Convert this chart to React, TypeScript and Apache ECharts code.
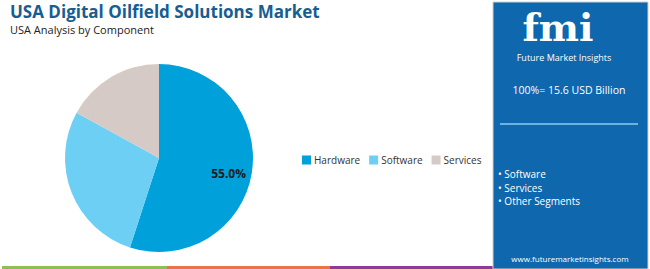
import React, { useEffect, useRef } from "react";
import * as echarts from "echarts";

const categories = ["Hardware", "Software", "Services"];
const shares = [55, 28, 17];
const colors = ["#00a0db", "#6dcff3", "#d6cac6"];
const labelled = ["Hardware"];
const title = "USA Digital Oilfield Solutions Market";
const subtitle = "USA Analysis by Component";
const marketSize = "100%= 15.6 USD Billion";
const otherSegments = ["Software", "Services", "Other Segments"];
const website = "www.futuremarketinsights.com";

const FONT = "'Open Sans', 'Noto Sans', sans-serif";

export default function App() {
  const ref = useRef<HTMLDivElement>(null);
  useEffect(() => {
    document.body.style.margin = "0";
    const chart = echarts.init(ref.current!, null, { renderer: "svg" });
    const data = categories.map((name, i) => ({
      name,
      value: shares[i],
      itemStyle: { color: colors[i] },
    }));
    chart.setOption({
      animation: false,
      backgroundColor: "#ffffff",
      title: [
        {
          text: title,
          left: 10,
          top: 3,
          padding: 0,
          textStyle: { fontFamily: FONT, fontSize: 17, fontWeight: "bold", color: "#185d92" },
        },
        {
          text: subtitle,
          left: 10,
          top: 24,
          padding: 0,
          textStyle: { fontFamily: FONT, fontSize: 11, fontWeight: "normal", color: "#222222" },
        },
      ],
      legend: {
        data: categories,
        left: 302,
        top: 155,
        padding: 0,
        icon: "rect",
        itemWidth: 9,
        itemHeight: 9,
        itemGap: 9,
        textStyle: { fontFamily: FONT, fontSize: 10, color: "#333333", padding: [0, 0, 0, -2] },
      },
      series: [
        {
          type: "pie",
          center: [159, 158],
          radius: [0, 94],
          startAngle: 90,
          clockwise: true,
          label: { show: false },
          labelLine: { show: false },
          data,
        },
        {
          type: "pie",
          center: [159, 158],
          radius: [47, 94],
          startAngle: 90,
          clockwise: true,
          silent: true,
          itemStyle: { color: "transparent" },
          labelLine: { show: false },
          label: {
            show: true,
            position: "inside",
            fontFamily: FONT,
            fontSize: 12,
            fontWeight: "bold",
            color: "#1a1a1a",
            offset: [-3, 4],
            formatter: (p: any) => (labelled.includes(p.name) ? p.value.toFixed(1) + "%" : ""),
          },
          data: categories.map((name, i) => ({
            name,
            value: shares[i],
            itemStyle: { color: "transparent" },
          })),
        },
      ],
      graphic: [
        // bottom colour bar
        { type: "rect", shape: { x: 2, y: 266, width: 165, height: 3 }, style: { fill: "#8cc152" } },
        { type: "rect", shape: { x: 167, y: 266, width: 163, height: 3 }, style: { fill: "#e9744a" } },
        { type: "rect", shape: { x: 330, y: 266, width: 164, height: 3 }, style: { fill: "#8c3b96" } },
        // right panel
        {
          type: "rect",
          shape: { x: 493, y: 2, width: 155, height: 267 },
          style: { fill: "#0f67ad", stroke: "#d0d0d0", lineWidth: 1 },
        },
        {
          type: "text",
          x: 558,
          y: 27,
          style: {
            text: "fmi",
            font: "bold 38px 'DejaVu Serif', serif",
            fill: "#ffffff",
            align: "center",
            verticalAlign: "middle",
            lineHeight: 36,
          },
        },
        {
          type: "text",
          x: 564,
          y: 57,
          style: {
            text: "Future Market Insights",
            font: "9px " + FONT,
            fill: "#ffffff",
            align: "center",
            verticalAlign: "middle",
          },
        },
        {
          type: "text",
          x: 569,
          y: 90,
          style: {
            text: marketSize,
            font: "10.5px " + FONT,
            fill: "#ffffff",
            align: "center",
            verticalAlign: "middle",
          },
        },
        {
          type: "line",
          shape: { x1: 500, y1: 124, x2: 638, y2: 124 },
          style: { stroke: "#8fcdf2", lineWidth: 1.5 },
        },
        ...otherSegments.map((s, i) => ({
          type: "text",
          x: 498,
          y: 174 + i * 13.5,
          style: {
            text: "• " + s,
            font: "10px " + FONT,
            fill: "#ffffff",
            verticalAlign: "middle",
          },
        })),
        {
          type: "text",
          x: 570,
          y: 258,
          style: {
            text: website,
            font: "8px " + FONT,
            fill: "#ffffff",
            align: "center",
            verticalAlign: "middle",
          },
        },
      ],
    });
    return () => chart.dispose();
  }, []);
  return (
    <div
      ref={ref}
      style={{ width: 650, height: 269, position: "fixed", left: 0, top: 0 }}
    />
  );
}
